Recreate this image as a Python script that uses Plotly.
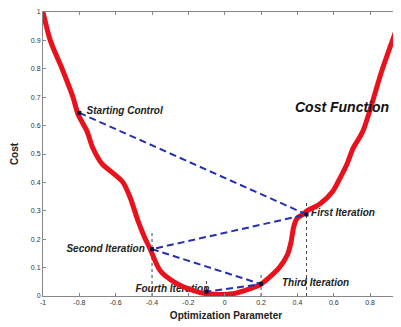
import plotly.graph_objects as go

# Cost curve
curve_x = [-1.0, -0.96, -0.895, -0.835, -0.807, -0.758, -0.725, -0.675, -0.615, -0.56, -0.52,
           -0.48, -0.44, -0.41, -0.356, -0.28, -0.21, -0.136, -0.064, 0.046, 0.14, 0.2,
           0.3, 0.345, 0.365, 0.38, 0.40, 0.425, 0.453, 0.525, 0.596, 0.635, 0.673, 0.706,
           0.76, 0.868, 0.965, 0.985]
curve_y = [1.0, 0.9, 0.8, 0.7, 0.64, 0.58, 0.52, 0.465, 0.433, 0.40, 0.346,
           0.27, 0.205, 0.165, 0.09, 0.05, 0.028, 0.012, 0.006, 0.008, 0.026, 0.042,
           0.1, 0.145, 0.19, 0.245, 0.275, 0.285, 0.30, 0.325, 0.37, 0.416, 0.465, 0.52,
           0.58, 0.8, 0.975, 1.01]

# Optimization iterates
iter_names = ["Starting Control", "First Iteration", "Second Iteration",
              "Third Iteration", "Fourth Iteration"]
iter_x = [-0.8, 0.45, -0.4, 0.2, -0.1]
iter_y = [0.645, 0.287, 0.165, 0.042, 0.015]
guide_top = [None, 0.335, 0.225, 0.075, 0.06]

# label anchor points (text placed beside them)
label_x = [-0.76, 0.475, -0.44, 0.315, -0.085]
label_y = [0.65, 0.29, 0.164, 0.045, 0.022]
label_pos = ["middle right", "middle right", "middle left", "middle right", "middle left"]

x_ticks = [-1, -0.8, -0.6, -0.4, -0.2, 0, 0.2, 0.4, 0.6, 0.8]
y_ticks = [0, 0.1, 0.2, 0.3, 0.4, 0.5, 0.6, 0.7, 0.8, 0.9, 1]

fig = go.Figure()

# dotted vertical guides
for xv, top in zip(iter_x, guide_top):
    if top is None:
        continue
    fig.add_trace(go.Scatter(x=[xv, xv], y=[0, top], mode="lines",
                             line=dict(color="#444444", width=1, dash="dot"),
                             hoverinfo="skip", showlegend=False))

# iteration labels (below the curve, as in the reference)
fig.add_trace(go.Scatter(x=label_x, y=label_y, mode="text",
                         text=["<b><i>" + n + "</i></b>" for n in iter_names],
                         textposition=label_pos,
                         textfont=dict(family="Liberation Sans", size=10, color="#222222"),
                         hoverinfo="skip", showlegend=False))

fig.add_trace(go.Scatter(x=curve_x, y=curve_y, mode="lines",
                         line=dict(color="#e8111c", width=5, shape="spline", smoothing=0.8),
                         showlegend=False))

fig.add_trace(go.Scatter(x=iter_x, y=iter_y, mode="lines+markers",
                         line=dict(color="#2630b0", width=2, dash="7px,4px"),
                         marker=dict(color="#111133", size=4, symbol="square"),
                         showlegend=False))

fig.add_annotation(x=0.376, y=0.664, text="<b><i>Cost Function</i></b>", showarrow=False,
                   xanchor="left", yanchor="middle",
                   font=dict(family="Liberation Sans", size=14, color="#111111"))

tickfont = dict(family="Liberation Sans", size=7, color="#333333")
fig.update_xaxes(range=[-1, 1.014], tickvals=x_ticks, ticktext=[str(v) for v in x_ticks],
                 ticks="inside", ticklen=3, tickcolor="#888888", showline=True,
                 linecolor="#888888", linewidth=1, mirror="ticks", showgrid=False,
                 zeroline=False, tickfont=tickfont, ticklabeloverflow="allow",
                 title=dict(text="<b>Optimization Parameter</b>", standoff=6,
                            font=dict(family="Liberation Sans", size=10, color="#222222")))
fig.update_yaxes(range=[0, 1], tickvals=y_ticks, ticktext=[str(v) for v in y_ticks],
                 ticks="inside", ticklen=3, tickcolor="#888888", showline=True,
                 linecolor="#888888", linewidth=1, mirror=False, showgrid=False,
                 zeroline=False, tickfont=tickfont, ticklabeloverflow="allow",
                 title=dict(text="<b>Cost</b>", standoff=10,
                            font=dict(family="Liberation Sans", size=10, color="#222222")))

fig.update_layout(width=401, height=327, margin=dict(l=35, r=0, t=2, b=39),
                  plot_bgcolor="white", paper_bgcolor="white")

fig.write_html("out.html")
